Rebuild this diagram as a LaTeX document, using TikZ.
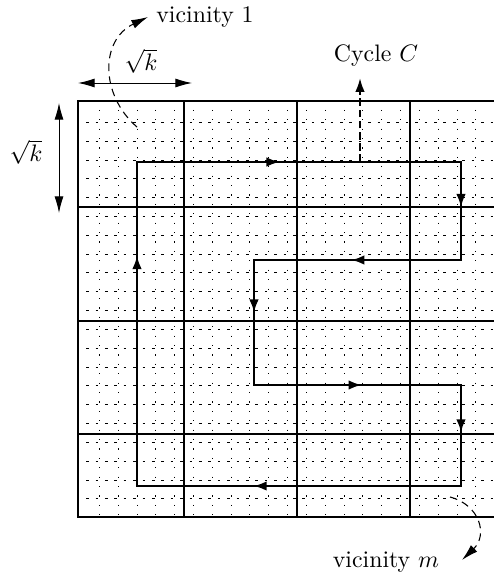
\documentclass[tikz,border=0pt]{standalone}
\usepackage{amsmath}
\usepackage{amssymb}
\usepackage{xcolor}
\usepackage{tikz}
\usetikzlibrary{
	arrows.meta,
	decorations.markings
}
\tikzset{
	coarse/.style={line width=0.9pt, line cap=rect},
	fineh/.style={line width=0.32pt, dash pattern=on 1.1pt off 2.85pt, dash phase=0.55pt},
	finev/.style={line width=0.32pt, dash pattern=on 0.5pt off 3.45pt, dash phase=0.25pt},
	route/.style={line width=0.9pt, line join=miter},
	flow/.style={postaction={decorate}, decoration={markings,
		mark=at position #1 with {\arrow{Latex[length=5.5pt,width=4pt]}}}},
	hint/.style={line width=0.45pt, dash pattern=on 3.2pt off 2.2pt, -{Latex[length=7pt,width=3.8pt]}},
	span/.style={line width=0.4pt, {Latex[length=7pt,width=3.8pt]}-{Latex[length=7pt,width=3.8pt]}}
}

\begin{document}
\begin{tikzpicture}[x=0.42pt, y=-0.42pt]
			\useasboundingbox (0,0) rectangle (493,578);
			\foreach \k in {1,...,21} {
				\draw[fineh] (78,{103.4+18.83*\k}) -- (493,{103.4+18.83*\k});
				\draw[finev] ({80.4+18.83*\k},101) -- ({80.4+18.83*\k},517);
			}
			\foreach \y in {101,207,321,434,517}
				\draw[coarse] (78,\y) -- (496,\y);
			\foreach \x in {78,184,297,410}
				\draw[coarse] (\x,101) -- (\x,517);
			\coordinate (C1) at (137,486);
			\coordinate (C2) at (137,162);
			\coordinate (C3) at (461,162);
			\coordinate (C4) at (461,260);
			\coordinate (C5) at (254,260);
			\coordinate (C6) at (254,385);
			\coordinate (C7) at (461,385);
			\coordinate (C8) at (461,486);
			\draw[route] (C1) -- (C2) -- (C3) -- (C4) -- (C5) -- (C6) -- (C7) -- (C8) -- cycle;
			\draw[route, flow=0.71] (C1) -- (C2);
			\draw[route, flow=0.44] (C2) -- (C3);
			\draw[route, flow=0.46] (C3) -- (C4);
			\draw[route, flow=0.53] (C4) -- (C5);
			\draw[route, flow=0.42] (C5) -- (C6);
			\draw[route, flow=0.52] (C6) -- (C7);
			\draw[route, flow=0.47] (C7) -- (C8);
			\draw[route, flow=0.64] (C8) -- (C1);
			\coordinate (tap) at (360,162);
			\node (cyc) at (376,56) {Cycle $C$};
			\draw[line width=1.1pt, dash pattern=on 3.2pt off 1.5pt, -{Latex[length=6pt,width=4pt]}, shorten >=1pt] (tap) -- (tap |- cyc.south);
			\coordinate (H1) at (78,83);
			\coordinate (H2) at (192,83);
			\draw[span] (H1) -- (H2);
			\node (rkh) at (141,61) {$\sqrt{k}$};
			\coordinate (V1) at (59,103);
			\coordinate (V2) at (59,213);
			\draw[span] (V1) -- (V2);
			\node (rkv) at (26,152) {$\sqrt{k}$};
			\coordinate (in1) at (137,127);
			\node[anchor=west] (vic1) at (148,17) {vicinity 1};
			\draw[hint] (in1) .. controls (100,95) and (100,40) .. (vic1.west);
			\coordinate (inm) at (450,497);
			\coordinate (tipm) at (462,560);
			\node (vicm) at (386,562) {vicinity $m$};
			\draw[hint] (inm) .. controls (480,505) and (488,535) .. (tipm);
		\end{tikzpicture}
\end{document}
